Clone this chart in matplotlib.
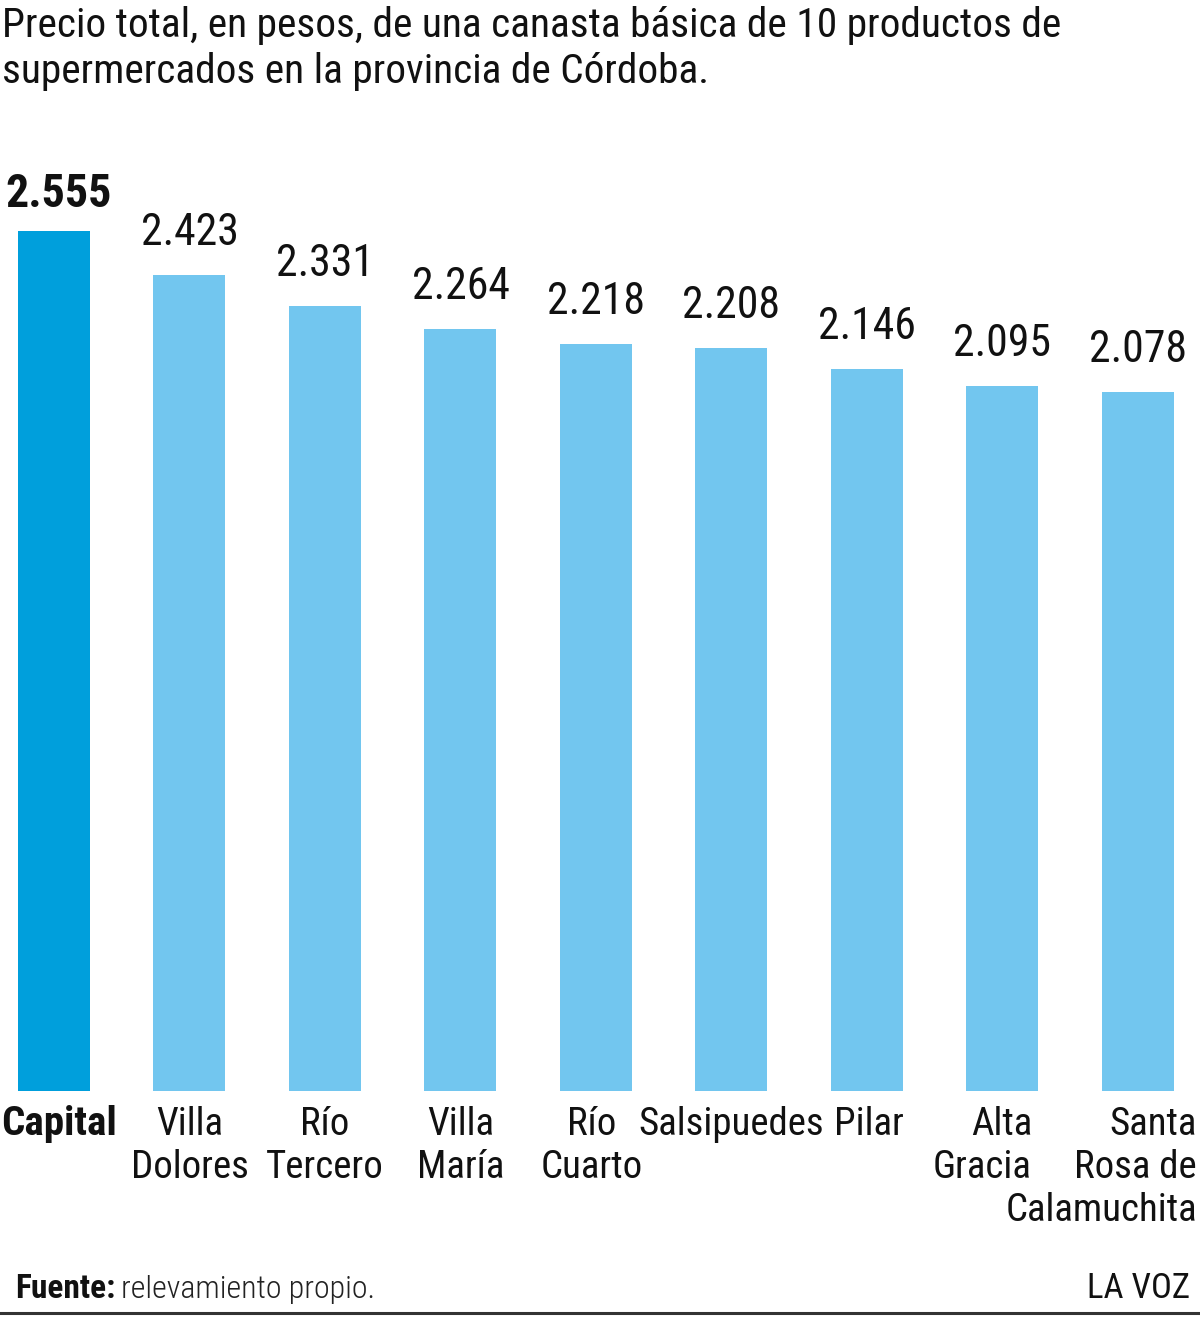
import matplotlib
matplotlib.use("Agg")
import matplotlib.pyplot as plt
from matplotlib import font_manager
from matplotlib.transforms import offset_copy

# data
ciudades = ["Capital", "Villa\nDolores", "Río\nTercero", "Villa\nMaría", "Río\nCuarto",
            "Salsipuedes", "Pilar", "Alta\nGracia", "Santa\nRosa de\nCalamuchita"]
precios = [2555, 2423, 2331, 2264, 2218, 2208, 2146, 2095, 2078]
etiquetas = ["2.555", "2.423", "2.331", "2.264", "2.218", "2.208", "2.146", "2.095", "2.078"]

titulo = ("Precio total, en pesos, de una canasta básica de 10 productos de\n"
          "supermercados en la provincia de Córdoba.")

# pick a narrow font if one exists
nombres = {f.name for f in font_manager.fontManager.ttflist}
fuente = "Roboto"
for cand in ["Roboto Condensed", "Liberation Sans Narrow", "Open Sans Condensed", "Roboto"]:
    if cand in nombres:
        fuente = cand
        break
plt.rcParams["font.family"] = [fuente, "DejaVu Sans"]

W, H = 1200, 1317
fig = plt.figure(figsize=(W / 100, H / 100), dpi=100)

# axes: bar centers at 54 + 135.5*i px, base at y=1091, 2555 at y=231
paso = 135.5
x0 = -54 / paso
x1 = (W - 54) / paso
ax = fig.add_axes([0, (H - 1091) / H, 1, (1091 - 231) / H])
ax.set_xlim(x0, x1)
ax.set_ylim(0, precios[0])
ax.axis("off")

colores = ["#009fdc"] + ["#72c6ef"] * (len(precios) - 1)
xs = list(range(len(precios)))
ax.bar(xs, precios, width=72 / paso, color=colores)

# value labels
for i, (v, t) in enumerate(zip(precios, etiquetas)):
    dx = 5 if i == 0 else 0
    gap = 24 if i == 0 else 30
    tr = offset_copy(ax.transData, fig=fig, x=dx * 0.72, y=gap * 0.72, units="points")
    ax.text(i, v, t, transform=tr, ha="center", va="baseline",
            fontsize=33 if i == 0 else 31.5,
            fontweight="bold" if i == 0 else "normal", color="#111111")

# category labels
alineacion = ["center"] * 7 + ["right", "right"]
desplaza = [5, 0, 0, 0, -4, 0, 2, 0, 0]
for i, nombre in enumerate(ciudades):
    lineas = nombre.split("\n")
    if alineacion[i] == "right":
        px = 1032 if i == 7 else 1197
        xd = (px - 54) / paso
    else:
        xd = i
    for k, ln in enumerate(lineas):
        tr = offset_copy(ax.transData, fig=fig, x=desplaza[i] * 0.72,
                         y=-(44 + 43 * k) * 0.72, units="points")
        ax.text(xd, 0, ln, transform=tr, ha=alineacion[i], va="baseline",
                fontsize=29.5 if i == 0 else 28,
                fontweight="bold" if i == 0 else "normal",
                color="#111111", clip_on=False)

# title
fig.text(2 / W, 1 - 37 / H, titulo.split("\n")[0], fontsize=29.8, color="#111111",
         ha="left", va="baseline")
fig.text(2 / W, 1 - 83 / H, titulo.split("\n")[1], fontsize=29.8, color="#111111",
         ha="left", va="baseline")

# footer
t1 = fig.text(15 / W, 1 - 1298 / H, "Fuente:", fontsize=24, fontweight="bold",
              color="#111111", ha="left", va="baseline")
fig.canvas.draw()
bb = t1.get_window_extent()
fig.text((bb.x1 + 6) / W, 1 - 1298 / H, "relevamiento propio.", fontsize=23,
         fontweight="light", color="#222222", ha="left", va="baseline")
fig.text(1190 / W, 1 - 1298 / H, "LA VOZ", fontsize=25, color="#111111",
         ha="right", va="baseline")
fig.add_artist(plt.Line2D([0, 1], [1 - 1313 / H] * 2, color="#333333", lw=2.2,
                          transform=fig.transFigure))

fig.savefig("out.png", dpi=100)
